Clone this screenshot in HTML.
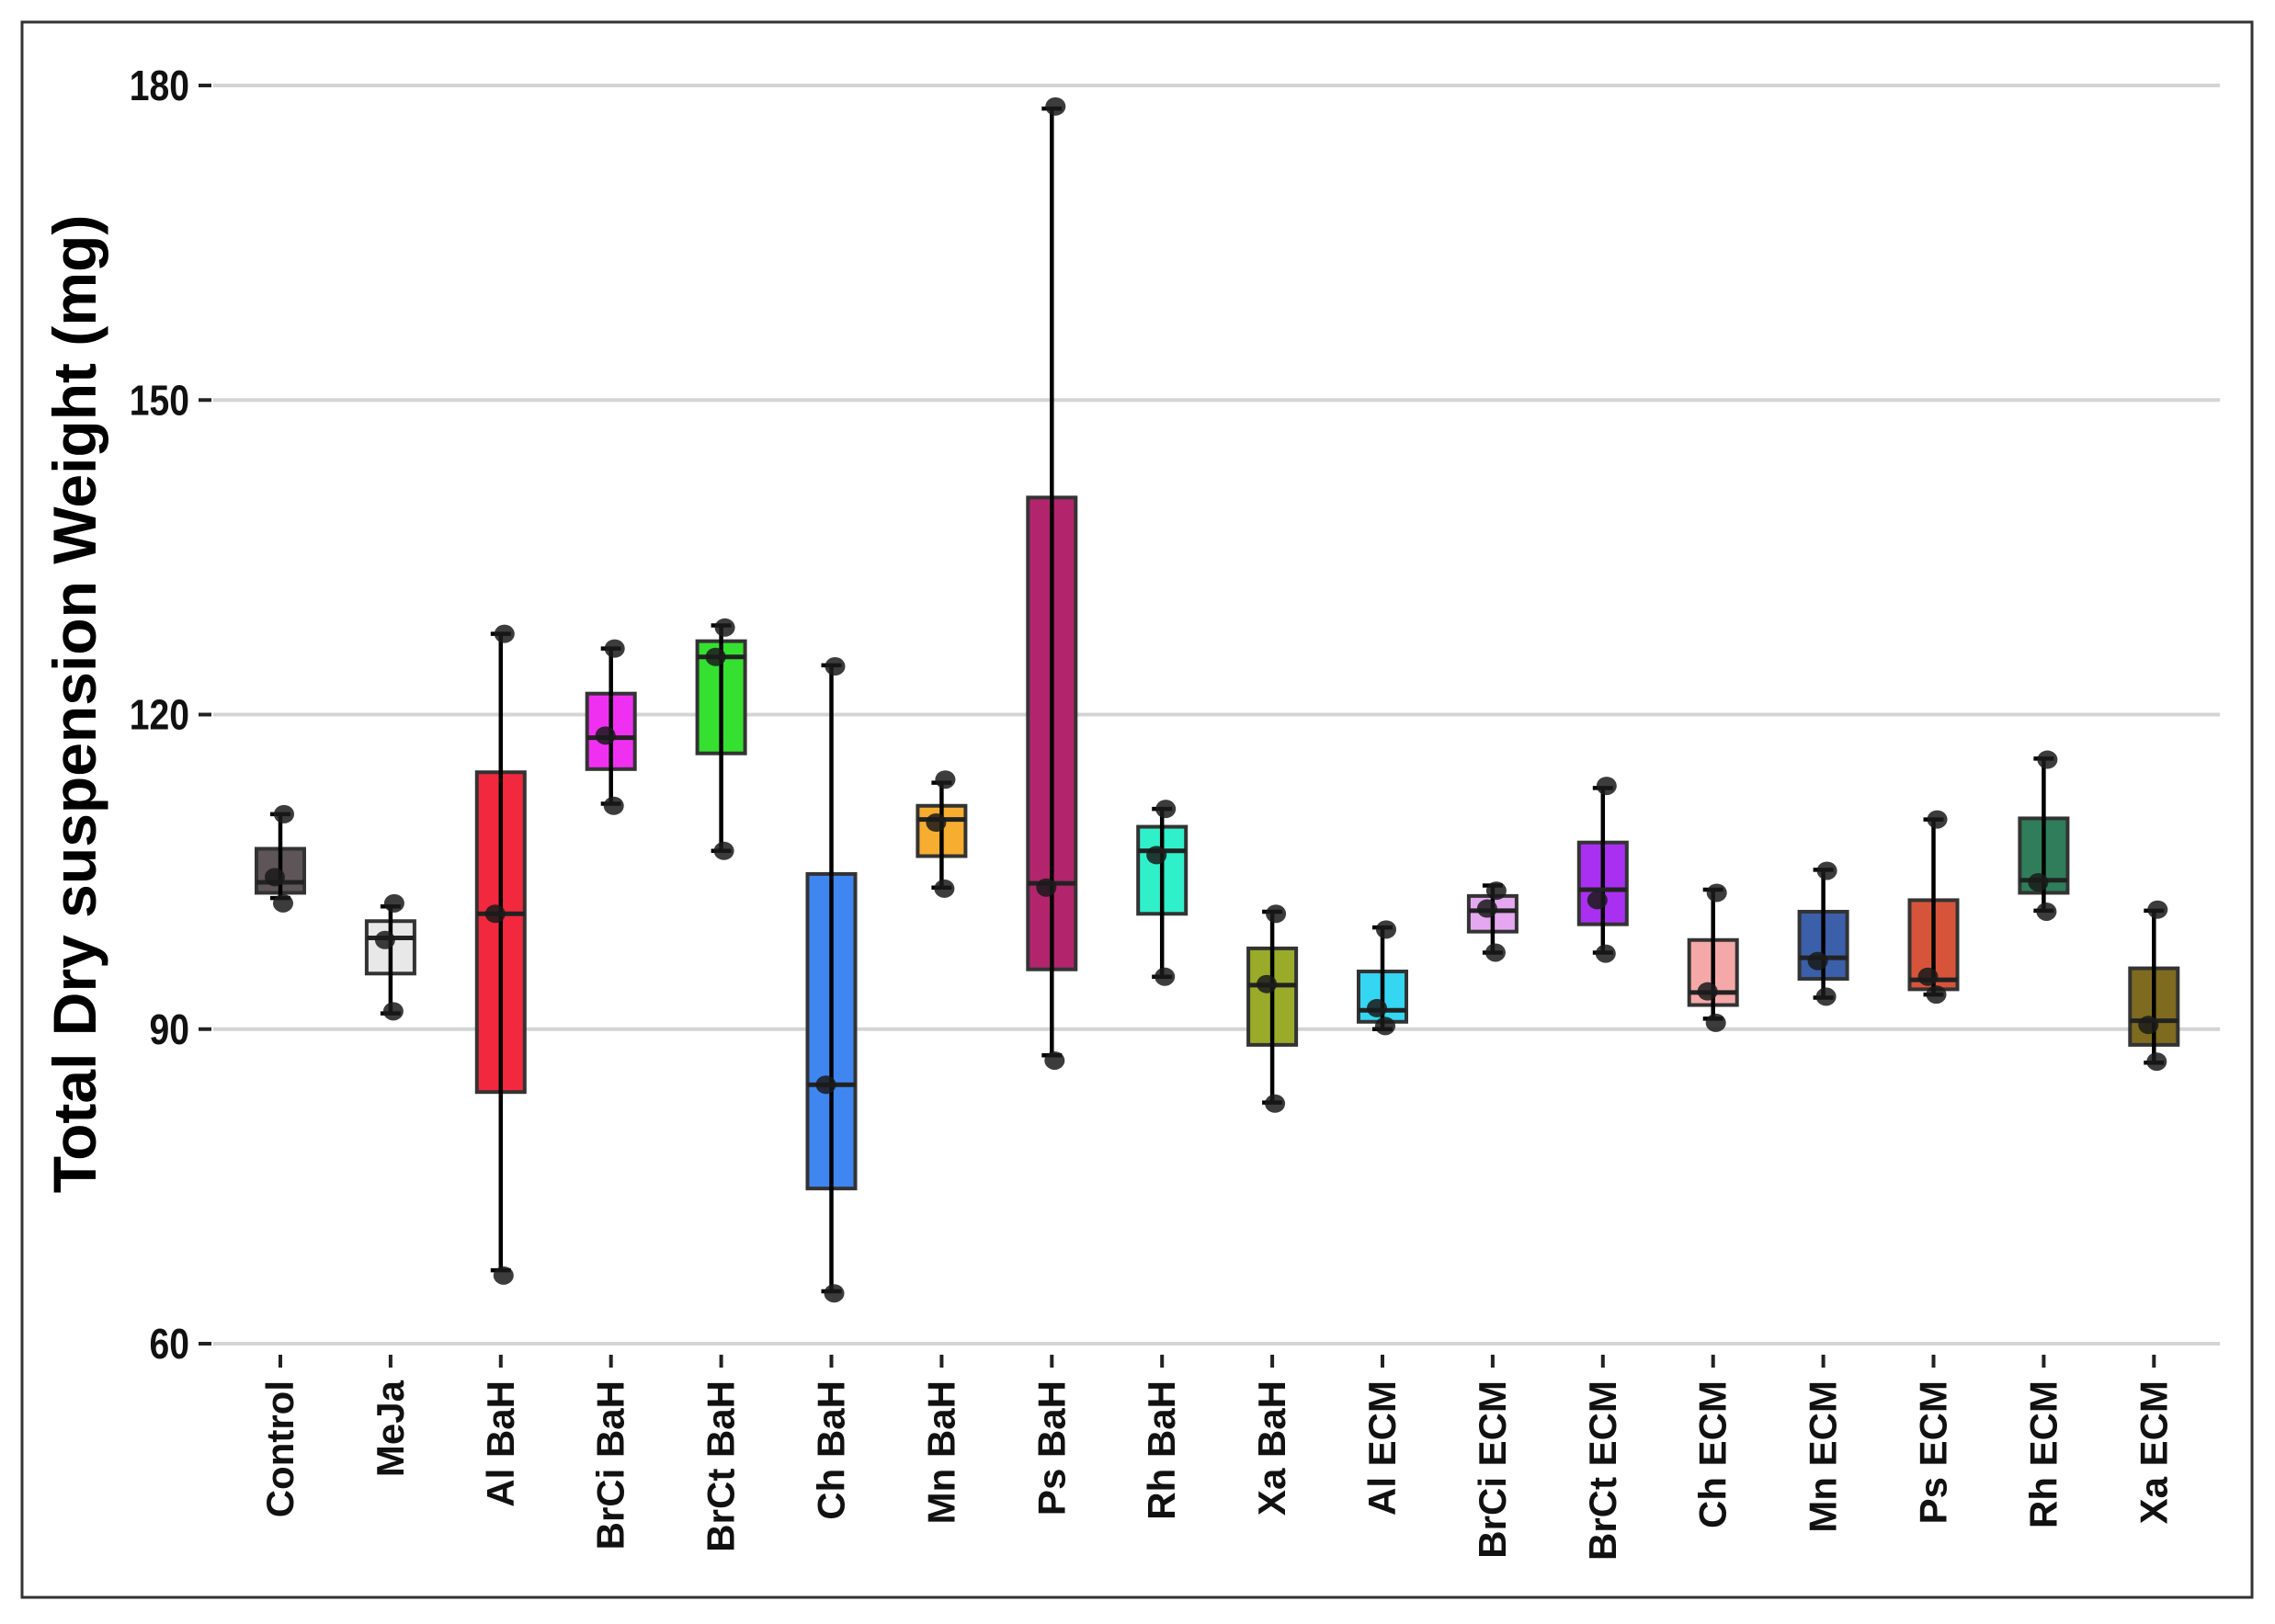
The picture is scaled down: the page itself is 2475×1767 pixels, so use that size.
<!DOCTYPE html>
<html><head><meta charset="utf-8"><style>
html,body{margin:0;padding:0;background:#fff;}
svg{display:block;font-family:"Liberation Sans",Arial,sans-serif;}
</style></head><body>
<svg id="chart" width="2475" height="1767" viewBox="0 0 2475 1767" xmlns="http://www.w3.org/2000/svg">
<rect x="24" y="24" width="2426" height="1714" fill="#fff" stroke="#333" stroke-width="3"/>
<g id="grid"></g>
<g id="yaxis"></g>
<g id="xaxis"></g>
<g id="boxes"></g>
<text transform="translate(104,766) rotate(-90)" text-anchor="middle" font-size="66" font-weight="bold" fill="#000">Total Dry suspension Weight (mg)</text>
</svg>
<script>
const categories=["Control","MeJa","Al BaH","BrCi BaH","BrCt BaH","Ch BaH","Mn BaH","Ps BaH","Rh BaH","Xa BaH","Al ECM","BrCi ECM","BrCt ECM","Ch ECM","Mn ECM","Ps ECM","Rh ECM","Xa ECM"];
const q1=[103,95.3,84,114.8,116.3,74.8,106.5,95.7,101,88.5,90.7,99.3,100,92.3,94.8,93.8,103,88.5];
const q3=[107.2,100.3,114.5,122,127,104.8,111.3,140.7,109.3,97.7,95.5,102.7,107.8,98.5,101.2,102.3,110.1,95.8];
const medians=[104,98.7,101,117.8,125.5,84.7,110,103.9,107,94.2,91.8,101.3,103.3,93.5,96.8,94.7,104.2,90.8];
const whiskerLow=[102.5,91.5,67,111.5,107,65,103.5,87.5,95,83,90,97.3,97.3,91,93,93.3,101.3,86.8];
const whiskerHigh=[110.5,101.7,127.7,126.3,128.5,124.7,113.5,177.8,111,101.2,99.7,103.7,113,103.3,105.2,110,115.8,101.3];
const pointsA=[104.5,98.5,101,118,125.5,84.7,109.7,103.5,106.6,94.3,92,101.5,102.3,93.6,96.5,95,104,90.4];
const pointsB=[102,91.7,66.5,111.3,107,64.8,103.4,87,95,82.9,90.3,97.3,97.2,90.6,93.1,93.3,101.2,86.9];
const pointsC=[110.5,102,127.7,126.3,128.3,124.6,113.8,178,111,101,99.5,103.2,113.2,103,105.1,110,115.7,101.4];
const yTicks=[60,90,120,150,180];
const colors=["#5e5559","#e8e8e8","#f2293e","#f030f0","#35e030","#3f86f0","#f6ad30","#b2256c","#30f0ca","#9aab2a","#35d6f2","#e5a8f0","#a930f0","#f5a8a8","#3b5fa8","#d6553a","#2f7d5b","#7e6b20"];

const NS="http://www.w3.org/2000/svg";
const yMin=60,yMax=180,yTop=93,yBot=1462;
const Y=v=>yBot-(v-yMin)/(yMax-yMin)*(yBot-yTop);
const x0=305,step=119.9;
const X=i=>x0+i*step;
const plotL=232,plotR=2415,bw=52,cap=22;
function mk(tag,attrs,parent){const e=document.createElementNS(NS,tag);for(const k in attrs)e.setAttribute(k,attrs[k]);parent.appendChild(e);return e;}
const grid=document.getElementById('grid'),ya=document.getElementById('yaxis'),xa=document.getElementById('xaxis'),bx=document.getElementById('boxes');
yTicks.forEach(t=>{
  const g=mk('line',{x1:plotL,x2:plotR,y1:Y(t),y2:Y(t),stroke:'#d4d4d4','stroke-width':4},grid);
  
  
  const tk=mk('line',{x1:216,x2:230,y1:Y(t),y2:Y(t),stroke:'#222','stroke-width':4},ya);
  
  
  const tx=mk('text',{x:0,y:0,transform:`translate(206,${Y(t)+16}) scale(0.85,1)`,'text-anchor':'end','font-size':46,'font-weight':'bold',fill:'#111'},ya);
  tx.textContent=t;
  
  
});
categories.forEach((c,i)=>{
  const x=X(i);
  const tk=mk('line',{x1:x,x2:x,y1:1474,y2:1488,stroke:'#222','stroke-width':4},xa);
  
  
  const tx=mk('text',{x:0,y:0,transform:`translate(${x+14},1502) rotate(-90)`,'text-anchor':'end','font-size':42,'font-weight':'bold',fill:'#111'},xa);
  tx.textContent=c;
  
  
  const g=mk('g',{},bx);
  
  
  mk('rect',{x:x-bw/2,y:Y(q3[i]),width:bw,height:Y(q1[i])-Y(q3[i]),fill:colors[i],stroke:'#333','stroke-width':4},g);
  mk('line',{x1:x,x2:x,y1:Y(whiskerHigh[i]),y2:Y(whiskerLow[i]),stroke:'#000','stroke-width':4.5},g);
  mk('line',{x1:x-cap/2,x2:x+cap/2,y1:Y(whiskerHigh[i]),y2:Y(whiskerHigh[i]),stroke:'#000','stroke-width':4.5},g);
  mk('line',{x1:x-cap/2,x2:x+cap/2,y1:Y(whiskerLow[i]),y2:Y(whiskerLow[i]),stroke:'#000','stroke-width':4.5},g);
  mk('line',{x1:x-bw/2,x2:x+bw/2,y1:Y(medians[i]),y2:Y(medians[i]),stroke:'#222','stroke-width':5},g);
  [[pointsA[i],-6],[pointsB[i],3],[pointsC[i],4]].forEach(([v,dx])=>{
    const p=mk('ellipse',{cx:x+dx,cy:Y(v),rx:11,ry:10,fill:'#1a1a1a','fill-opacity':0.85},g);
    
    
  });
});
</script>
</body></html>
